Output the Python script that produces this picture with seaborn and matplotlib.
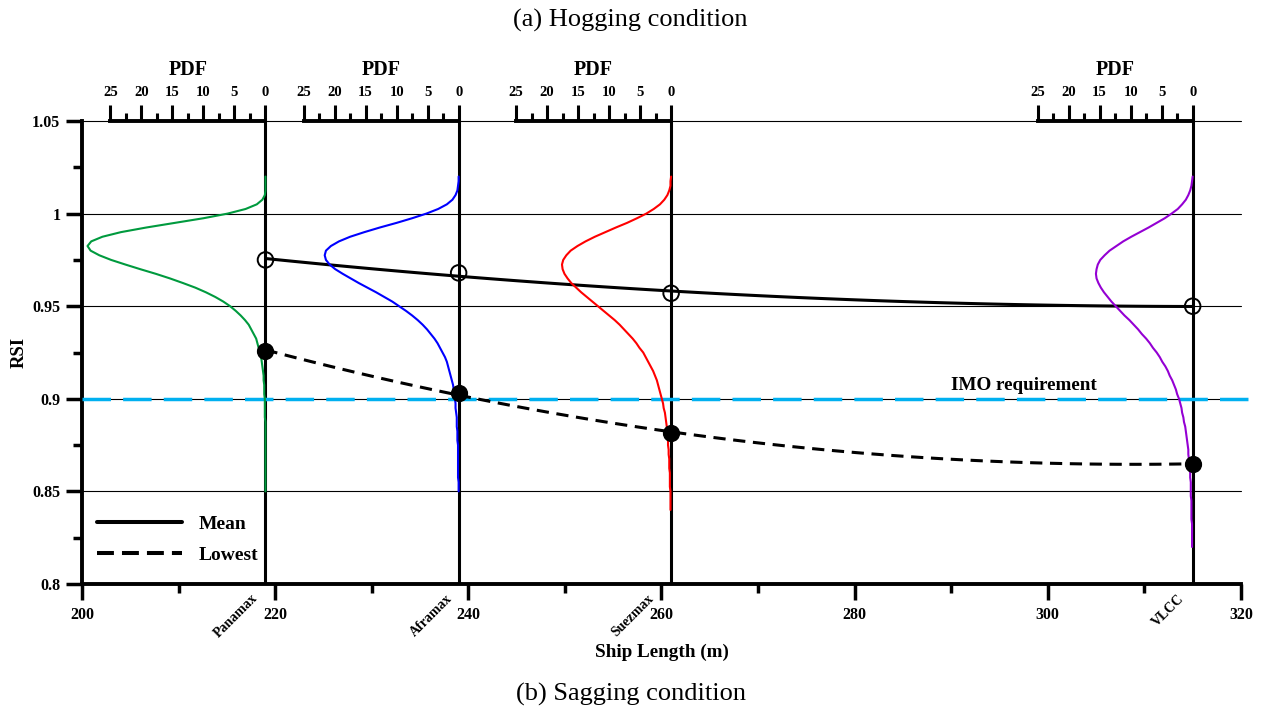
import matplotlib
matplotlib.use('Agg')
import matplotlib.pyplot as plt
import matplotlib.transforms as mtransforms
from matplotlib.lines import Line2D
from matplotlib.ticker import MultipleLocator
import seaborn as sns

# ---------------- data ----------------
ship_names = ['Panamax', 'Aframax', 'Suezmax', 'VLCC']
ship_length = [219, 239, 261, 315]
rsi_mean = [0.975, 0.968, 0.957, 0.950]
rsi_lowest = [0.926, 0.903, 0.8815, 0.865]
imo_requirement = 0.9
pdf_colors = ['#009A3E', '#0000FF', '#FF0000', '#9400D3']
pdf_ticks = [25, 20, 15, 10, 5, 0]
y_ticks = [0.8, 0.85, 0.9, 0.95, 1.0, 1.05]
y_tick_labels = ['0.8', '0.85', '0.9', '0.95', '1', '1.05']

# RSI levels at which the PDF curves were read (top to bottom)
rsi_levels = [1.02, 1.0175, 1.015, 1.0125, 1.01, 1.0075, 1.005, 1.0025, 1.0, 0.9975,
              0.995, 0.9925, 0.99, 0.9875, 0.985, 0.9825, 0.98, 0.9775, 0.975, 0.9725,
              0.97, 0.9675, 0.965, 0.9625, 0.96, 0.9575, 0.955, 0.9525, 0.95, 0.9475,
              0.945, 0.9425, 0.94, 0.9375, 0.935, 0.9325, 0.93, 0.9275, 0.925, 0.9225,
              0.92, 0.9175, 0.915, 0.9125, 0.91, 0.9075, 0.905, 0.9025, 0.9, 0.8975,
              0.895, 0.8925, 0.89, 0.8875, 0.885, 0.8825, 0.88, 0.8775, 0.875, 0.8725,
              0.87, 0.8675, 0.865, 0.8625, 0.86, 0.8575, 0.855, 0.8525, 0.85, 0.8475,
              0.845, 0.8425, 0.84, 0.8375, 0.835, 0.8325, 0.83, 0.8275, 0.825, 0.8225, 0.82]

pdf_panamax = [0.0, 0.0, 0.0, 0.0, 0.1, 0.5, 1.4, 3.2, 6.1, 10.0, 14.6, 19.2, 23.3, 26.3, 28.1,
               28.7, 28.2, 26.8, 24.9, 22.6, 20.2, 17.7, 15.4, 13.3, 11.3, 9.6, 8.1, 6.8, 5.7,
               4.8, 4.0, 3.3, 2.7, 2.3, 1.9, 1.5, 1.3, 1.1, 0.9, 0.7, 0.6, 0.5, 0.4, 0.3, 0.3,
               0.2, 0.2, 0.2, 0.1, 0.1, 0.1, 0.1, 0.1, 0.0, 0.0, 0.0, 0.0, 0.0, 0.0, 0.0, 0.0,
               0.0, 0.0, 0.0, 0.0, 0.0, 0.0, 0.0, 0.0]
pdf_aframax = [0.0, 0.0, 0.1, 0.2, 0.5, 1.0, 1.9, 3.3, 5.2, 7.5, 10.0, 12.7, 15.2, 17.5, 19.3,
               20.6, 21.4, 21.6, 21.4, 20.8, 19.9, 18.7, 17.4, 16.1, 14.7, 13.3, 12.0, 10.7,
               9.6, 8.5, 7.5, 6.6, 5.8, 5.1, 4.5, 3.9, 3.4, 3.0, 2.6, 2.2, 1.9, 1.7, 1.5, 1.3,
               1.1, 0.9, 0.8, 0.7, 0.6, 0.5, 0.5, 0.4, 0.3, 0.3, 0.3, 0.2, 0.2, 0.2, 0.1, 0.1,
               0.1, 0.1, 0.1, 0.1, 0.1, 0.1, 0.0, 0.0, 0.0]
pdf_suezmax = [0.0, 0.1, 0.1, 0.3, 0.6, 1.1, 1.8, 2.8, 4.0, 5.5, 7.1, 8.9, 10.6, 12.3, 13.8,
               15.1, 16.2, 16.9, 17.4, 17.6, 17.5, 17.2, 16.7, 16.1, 15.3, 14.5, 13.6, 12.7,
               11.8, 10.9, 10.0, 9.1, 8.3, 7.6, 6.9, 6.2, 5.6, 5.1, 4.5, 4.1, 3.7, 3.3, 2.9,
               2.6, 2.3, 2.1, 1.9, 1.7, 1.5, 1.3, 1.2, 1.0, 0.9, 0.8, 0.7, 0.7, 0.6, 0.5, 0.5,
               0.4, 0.4, 0.3, 0.3, 0.3, 0.2, 0.2, 0.2, 0.2, 0.1, 0.1, 0.1, 0.1, 0.1]
pdf_vlcc = [0.0, 0.1, 0.2, 0.4, 0.7, 1.1, 1.7, 2.4, 3.4, 4.5, 5.8, 7.1, 8.5, 9.9, 11.2, 12.3,
            13.4, 14.2, 14.9, 15.3, 15.5, 15.6, 15.5, 15.2, 14.8, 14.3, 13.7, 13.1, 12.4, 11.7,
            11.0, 10.2, 9.5, 8.8, 8.2, 7.5, 6.9, 6.4, 5.8, 5.3, 4.9, 4.4, 4.0, 3.7, 3.3, 3.0,
            2.7, 2.5, 2.2, 2.0, 1.8, 1.7, 1.5, 1.4, 1.2, 1.1, 1.0, 0.9, 0.8, 0.7, 0.7, 0.6, 0.5,
            0.5, 0.4, 0.4, 0.3, 0.3, 0.3, 0.3, 0.2, 0.2, 0.2, 0.2, 0.2, 0.1, 0.1, 0.1, 0.1, 0.1,
            0.1]
pdf_curves = [pdf_panamax, pdf_aframax, pdf_suezmax, pdf_vlcc]

# ---------------- style ----------------
sns.set_style('ticks', {'axes.edgecolor': 'black', 'text.color': 'black',
                        'axes.labelcolor': 'black', 'xtick.color': 'black',
                        'ytick.color': 'black'})
plt.rcParams['font.family'] = ['Liberation Serif', 'DejaVu Serif']
plt.rcParams['font.weight'] = 'bold'

fig = plt.figure(figsize=(12.61, 7.13), dpi=100)
ax = fig.add_axes([0.065, 0.1809, 0.9191, 0.6494])
ax.set_xlim(200, 320)
ax.set_ylim(0.8, 1.05)

for yv in [0.85, 0.9, 0.95, 1.0, 1.05]:
    ax.axhline(yv, color='black', lw=0.8, zorder=1, clip_on=False)
for s in ship_length:
    ax.axvline(s, color='black', lw=2.2, zorder=3)
ax.axhline(imo_requirement, xmin=0, xmax=1.0155, color='#00B0F0', lw=2.5,
           dashes=(8.2, 3.5), zorder=4, clip_on=False)

sns.regplot(x=ship_length, y=rsi_mean, order=2, ci=None, scatter=False, truncate=True,
            line_kws=dict(color='black', lw=2.2, zorder=4), ax=ax)
sns.regplot(x=ship_length, y=rsi_lowest, order=2, ci=None, scatter=False, truncate=True,
            line_kws=dict(color='black', lw=2.2, dashes=(4, 2.5), zorder=4), ax=ax)
ax.scatter(ship_length, rsi_mean, s=125, facecolors='none', edgecolors='black',
           linewidths=1.4, zorder=7)
ax.scatter(ship_length, rsi_lowest, s=130, color='black', zorder=7)

ax.text(297.5, 0.9028, 'IMO requirement', ha='center', va='bottom', fontsize=13.8,
        fontweight='bold', color='black')

# PDF sub-axes hanging from the top of each ship line
pdf_span = 16.05
for s, c, f in zip(ship_length, pdf_colors, pdf_curves):
    pax = ax.inset_axes([s - pdf_span, 0.8, pdf_span, 0.25], transform=ax.transData)
    sns.lineplot(x=f, y=rsi_levels[:len(f)], sort=False, estimator=None, color=c, lw=1.5,
                 clip_on=False, ax=pax)
    pax.set_xlim(25, 0)
    pax.set_ylim(0.8, 1.05)
    pax.patch.set_visible(False)
    for sp in ['left', 'right', 'bottom']:
        pax.spines[sp].set_visible(False)
    pax.spines['top'].set_linewidth(2.8)
    pax.spines['top'].set_color('black')
    pax.xaxis.tick_top()
    pax.xaxis.set_label_position('top')
    pax.set_xticks(pdf_ticks)
    pax.xaxis.set_minor_locator(MultipleLocator(2.5))
    pax.tick_params(axis='x', which='major', length=11.5, width=2.2, labelsize=10.5, pad=4,
                    color='black', labelcolor='black')
    pax.tick_params(axis='x', which='minor', length=6, width=2.2, color='black')
    pax.set_yticks([])
    pax.set_xlabel('PDF', fontsize=14.5, fontweight='bold', labelpad=8, color='black')

ax.xaxis.set_major_locator(MultipleLocator(20))
ax.xaxis.set_minor_locator(MultipleLocator(10))
ax.set_yticks(y_ticks)
ax.set_yticklabels(y_tick_labels)
ax.yaxis.set_minor_locator(MultipleLocator(0.025))
ax.tick_params(axis='both', which='major', length=11.5, width=2.5, labelsize=11.5,
               direction='out', color='black', labelcolor='black')
ax.tick_params(axis='both', which='minor', length=6.5, width=2.5, direction='out',
               color='black')
ax.tick_params(axis='x', pad=5)
ax.tick_params(axis='y', pad=4)
for sp in ['top', 'right']:
    ax.spines[sp].set_visible(False)
for sp in ['left', 'bottom']:
    ax.spines[sp].set_linewidth(2.8)
    ax.spines[sp].set_color('black')

ax.set_xlabel('Ship Length (m)', fontsize=13.8, fontweight='bold', labelpad=15, color='black')
ax.set_ylabel('RSI', fontsize=13.5, fontweight='bold', labelpad=3.5, color='black')

trans = mtransforms.blended_transform_factory(ax.transData, ax.transAxes)
label_shift = [-0.5, -0.4, -1.5, -0.6]
for s, n, d in zip(ship_length, ship_names, label_shift):
    ax.text(s + d, -0.017, n, rotation=45, ha='right', va='top', fontsize=10,
            fontweight='bold', color='black', transform=trans)

handles = [Line2D([], [], color='black', lw=2.9),
           Line2D([], [], color='black', lw=2.9, dashes=(4.2, 2.0))]
leg = ax.legend(handles, ['Mean', 'Lowest'], loc='lower left', bbox_to_anchor=(0.0129, 0.043),
                frameon=False, handlelength=4.4, handletextpad=0.85, fontsize=14,
                labelspacing=0.7, borderpad=0, borderaxespad=0, labelcolor='black')

fig.text(0.5, 1 - 20 / 713, '(a) Hogging condition', ha='center', va='center',
         fontsize=19, fontweight='normal', color='black')
fig.text(0.5, 1 - 694 / 713, '(b) Sagging condition', ha='center', va='center',
         fontsize=19, fontweight='normal', color='black')

fig.savefig('out.png', dpi=100)
